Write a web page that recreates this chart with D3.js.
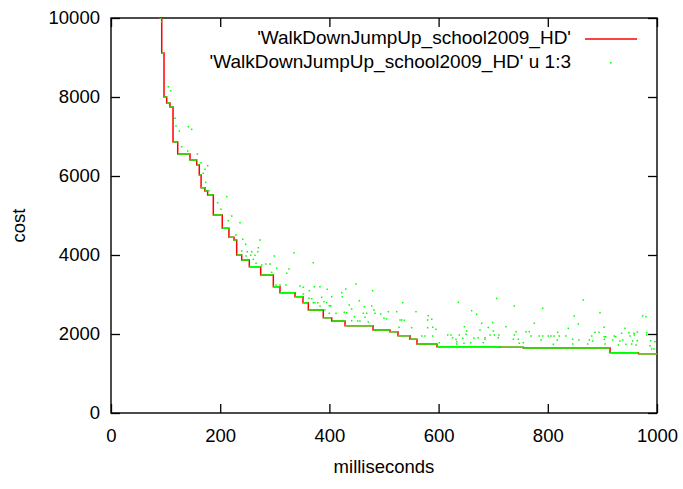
<!DOCTYPE html>
<html>
<head>
<meta charset="utf-8">
<script src="https://cdn.jsdelivr.net/npm/d3@7"></script>
<style>
    body { margin: 0; background: #fff; }
    text { font-family: "Liberation Sans", Arial, sans-serif; }
</style>
</head>
<body>
<div class="chart"></div>
<script>

// best cost so far (step line, col 1:2)
const stepTime = [86, 88.5, 92.9, 97.1, 102, 108, 113.6, 122.2, 144.7, 157, 161.7, 165, 172, 177, 187.4,
    203.8, 216, 225.3, 230.2, 239.4, 253.3, 274.2, 297.3, 309.5, 337, 351.6, 361.4, 388.8, 404.2,
    428.6, 479.9, 511, 525.6, 547.6, 560.4, 597, 712, 755, 914, 966, 1000];
const stepCost = [11000, 10000, 9114, 8000, 7848, 7747, 6861, 6557, 6405, 6278, 6025, 5700, 5620, 5520, 5013,
    4676, 4448, 4380, 4000, 3873, 3704, 3494, 3197, 3046, 2944, 2792, 2608, 2413, 2329,
    2210, 2101, 2058, 1957, 1866, 1747, 1678, 1663, 1646, 1527, 1501, 1501];

// current cost samples (u 1:3) off the step line
const scatterTime = [92.9, 104.9, 109.3, 117.2, 119, 141.6, 147.8, 125.1, 129.5, 140.5, 158.1, 164.8, 177.1, 172.2,
    169, 173.4, 179.5, 211.9, 195.4, 201.5, 221.1, 214.8, 236.3, 228.9, 272.9, 241.2, 246.7, 239.4, 249.6,
    257.7, 269.8, 268.7, 247.3, 255.9, 263.7, 299.1, 335.2, 260.6, 265.6, 276, 283.3, 291.2, 303.5, 326,
    321.8, 294.3, 370.5, 302.2, 309.5, 320.5, 346.2, 352.2, 372.3, 382.8, 396.2, 422.5, 429.9, 363.2, 352.2,
    362.6, 385.9, 404.2, 423.6, 373.6, 378.6, 370.5, 390.1, 395, 382.8, 399.8, 402.4, 391.9, 399.8, 412.1,
    427.3, 431.7, 436.4, 448.7, 479.3, 454.8, 367.6, 534.2, 636.1, 706.4, 463.9, 477.5, 481.7, 440.8, 462.1,
    468.3, 483.5, 494, 507.9, 523.3, 558.6, 660.6, 669.8, 465.2, 445.6, 500, 504.9, 440.8, 451.8, 456,
    471.2, 529.3, 532.4, 537.2, 580, 587.4, 581.1, 678.9, 699.1, 527.5, 550.7, 580, 589.2, 595.2, 647.1,
    651.5, 691, 700.2, 622.7, 616.7, 569, 575.1, 589.2, 637.9, 650.2, 664.8, 672.7, 685, 694.1, 702,
    710.6, 625.8, 631.9, 644.1, 633.1, 646.5, 658.8, 601.3, 633.1, 738.6, 790.6, 865, 848.5, 895.6, 973.8,
    979.9, 723.4, 775.3, 855.9, 902.9, 675.8, 741.8, 760.1, 766.1, 837.5, 818.1, 886.4, 893.8, 941.4, 935.3,
    948.7, 957.9, 963.9, 981.1, 738.6, 769.2, 784.4, 790.6, 800.9, 805.9, 811.4, 821.1, 833.3, 880.4, 903.5,
    906, 921.8, 924.4, 950.6, 958.4, 981.1, 685, 709.3, 736.8, 746, 787.5, 817.4, 845.6, 857.1, 876,
    882.2, 903.5, 918.9, 932.2, 937.2, 955.5, 963.9, 988.4, 996.3, 681.9, 747.8, 755.1, 810.1, 845.6, 873.1,
    904.8, 929.1, 943.2, 953.6, 961.5, 987.2, 990.3, 994.5];
const scatterCost = [9906, 8260, 8159, 7461, 7266, 7248, 7182, 7139, 6742, 6633, 6557, 6337, 6261, 6169,
    6068, 5840, 5628, 5476, 5324, 5157, 4987, 4868, 4818, 4506, 4380, 4397, 4271, 4101, 4083,
    4083, 4185, 4083, 3975, 3992, 3992, 3975, 4058, 3891, 3790, 3747, 3772, 3772, 3663, 3646,
    3537, 3562, 3805, 3240, 3240, 3240, 3215, 3182, 3197, 3197, 3132, 3046, 3139, 3096, 3013,
    2904, 2929, 2944, 2944, 2792, 2792, 2792, 2818, 2792, 2709, 2716, 2709, 2608, 2524, 2524,
    2549, 2539, 2734, 3266, 3096, 2843, 2894, 2792, 2802, 2899, 2691, 2709, 2608, 2633, 2524,
    2524, 2524, 2506, 2565, 2565, 2565, 2590, 2499, 2423, 2438, 2397, 2380, 2337, 2329, 2329,
    2304, 2354, 2354, 2347, 2354, 2372, 2463, 2271, 2291, 2170, 2159, 2159, 2170, 2119, 2185,
    2076, 2165, 2076, 1975, 1975, 1949, 1949, 1949, 1975, 1992, 1891, 1906, 1906, 1975, 1975,
    1975, 1906, 1866, 1891, 1805, 1765, 1780, 1780, 1747, 2709, 2651, 2861, 2456, 2539, 2456,
    2438, 2185, 2271, 2253, 2170, 2101, 2058, 2058, 2058, 2144, 2043, 2043, 2043, 2144, 2018,
    2033, 2018, 2051, 2033, 1975, 1949, 1949, 1949, 1949, 1949, 1949, 1949, 1949, 1949, 1932,
    1932, 1949, 1932, 1949, 1975, 1975, 1866, 1906, 1866, 1866, 1848, 1848, 1866, 1848, 1848,
    1823, 1866, 1848, 1823, 1848, 1823, 1830, 1830, 1805, 1780, 1765, 1780, 1739, 1747, 1747,
    1747, 1721, 1739, 1747, 1721, 1704, 1620, 1620];

const xTicks = [0, 200, 400, 600, 800, 1000];
const yTicks = [0, 2000, 4000, 6000, 8000, 10000];

const seriesNames = ["'WalkDownJumpUp_school2009_HD'", "'WalkDownJumpUp_school2009_HD' u 1:3"];

function drawChart(){

    const margin = { top: 18, right: 26, bottom: 76, left: 111 };
    const width = 546;
    const height = 395;

    const svg = d3.select(".chart")
        .append("svg")
        .attr("width", width + margin.left + margin.right)
        .attr("height", height + margin.top + margin.bottom)
        .append("g")
        .attr("transform", `translate(${margin.left},${margin.top})`);

    const x = d3.scaleLinear().domain([0, 1000]).range([0, width]);
    const y = d3.scaleLinear().domain([0, 10000]).range([height, 0]);

    svg.append("clipPath")
        .attr("id", "plotclip")
        .append("rect")
        .attr("width", width)
        .attr("height", height);

    //Ejes (gnuplot style, ticks inward on all sides)

    const fontSize = "18.5px";

    svg.append("g")
        .attr("transform", `translate(0,${height})`)
        .call(d3.axisBottom(x).tickValues(xTicks).tickSize(-9).tickPadding(16).tickFormat(d3.format("d")));

    svg.append("g")
        .call(d3.axisTop(x).tickValues(xTicks).tickSize(-9).tickFormat(""));

    svg.append("g")
        .call(d3.axisLeft(y).tickValues(yTicks).tickSize(-9).tickPadding(11).tickFormat(d3.format("d")));

    svg.append("g")
        .attr("transform", `translate(${width},0)`)
        .call(d3.axisRight(y).tickValues(yTicks).tickSize(-9).tickFormat(""));

    svg.selectAll(".domain").remove();
    svg.selectAll(".tick line").attr("stroke", "#000").attr("stroke-width", 1.3);
    svg.selectAll(".tick text")
        .attr("fill", "#000")
        .style("font-size", fontSize)
        .style("font-family", "'Liberation Sans', Arial, sans-serif");

    svg.append("rect")
        .attr("width", width)
        .attr("height", height)
        .attr("fill", "none")
        .attr("stroke", "#000")
        .attr("stroke-width", 1.4);

    svg.append("text")
        .attr("x", width / 2)
        .attr("y", height + 60)
        .attr("text-anchor", "middle")
        .style("font-size", fontSize)
        .text("milliseconds");

    svg.append("text")
        .attr("transform", `translate(${-92},${height / 2 + 10}) rotate(-90)`)
        .attr("text-anchor", "middle")
        .attr("dy", "0.35em")
        .style("font-size", fontSize)
        .text("cost");

    //Lineas

    const plot = svg.append("g").attr("clip-path", "url(#plotclip)");

    const steps = stepTime.map((t, i) => ({ t: t, c: stepCost[i] }));

    const line = d3.line()
        .x(d => x(d.t))
        .y(d => y(d.c))
        .curve(d3.curveStepAfter);

    plot.append("path")
        .datum(steps)
        .attr("d", line)
        .attr("fill", "none")
        .attr("stroke", "#ff0000")
        .attr("stroke-width", 1.5);

    // samples lying on the best line (horizontal runs)
    plot.append("path")
        .attr("d", steps.slice(0, -1).map((d, i) =>
            `M${x(d.t)},${y(d.c)}H${x(steps[i + 1].t)}`).join(""))
        .attr("fill", "none")
        .attr("stroke", "#00ff00")
        .attr("stroke-width", 1.6);

    const points = scatterTime.map((t, i) => ({ t: t, c: scatterCost[i] }));

    plot.selectAll(".pt")
        .data(points)
        .enter()
        .append("rect")
        .attr("class", "pt")
        .attr("x", d => x(d.t) - 0.75)
        .attr("y", d => y(d.c) - 0.75)
        .attr("width", 1.5)
        .attr("height", 1.5)
        .attr("fill", "#00ff00");

    //Leyenda

    const legend = svg.append("g");
    const rowY = [19.5, 43];

    legend.selectAll("text")
        .data(seriesNames)
        .enter()
        .append("text")
        .attr("x", 460)
        .attr("y", (d, i) => rowY[i])
        .attr("dy", "0.35em")
        .attr("text-anchor", "end")
        .style("font-size", "19px")
        .text(d => d);

    legend.append("line")
        .attr("x1", 474)
        .attr("x2", 526)
        .attr("y1", rowY[0] + 1.5)
        .attr("y2", rowY[0] + 1.5)
        .attr("stroke", "#ff0000")
        .attr("stroke-width", 1.5);

    legend.append("rect")
        .attr("x", 499)
        .attr("y", rowY[1] + 1)
        .attr("width", 1.5)
        .attr("height", 1.5)
        .attr("fill", "#00ff00");
}

drawChart();
</script>
</body>
</html>
